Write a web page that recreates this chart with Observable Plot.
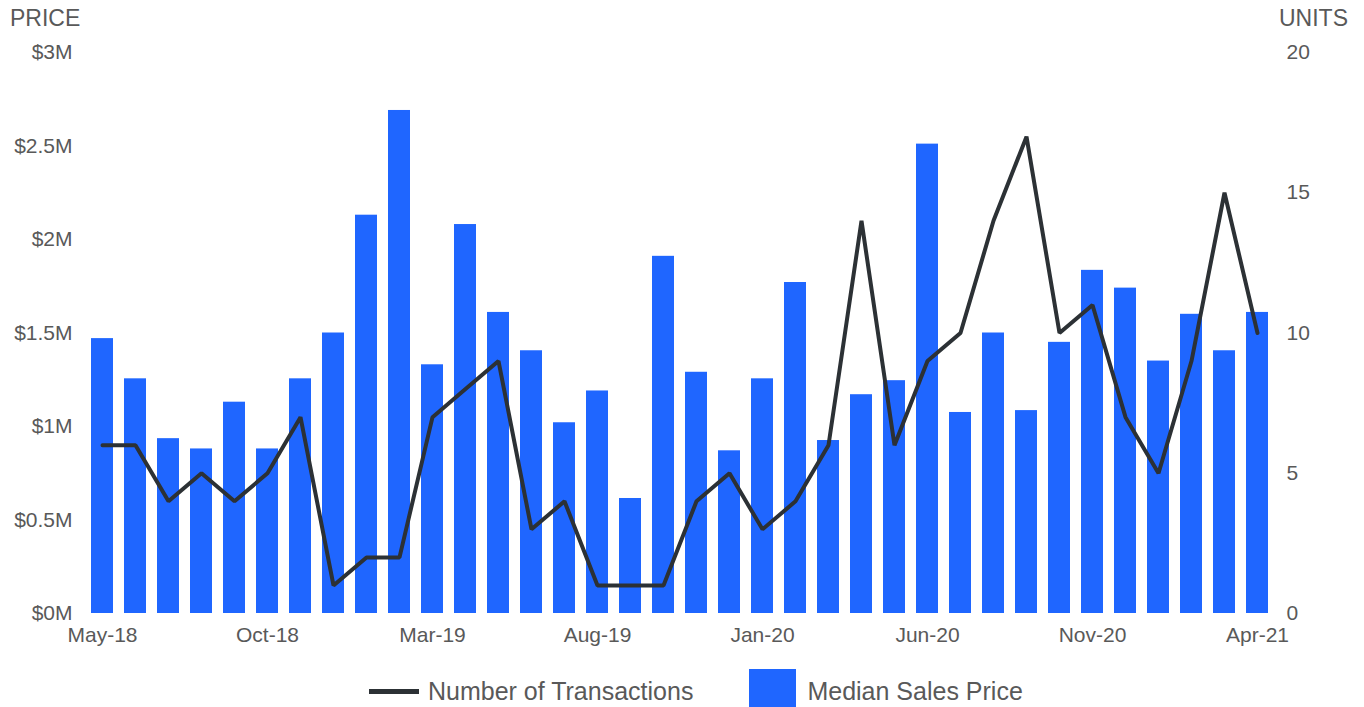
<!DOCTYPE html>
<html>
<head>
<meta charset="utf-8">
<script src="https://cdn.jsdelivr.net/npm/d3@7"></script>
<script src="https://cdn.jsdelivr.net/npm/@observablehq/plot@0.6"></script>
<style>
  html, body { margin: 0; padding: 0; background: #fff; }
  body { width: 1364px; height: 707px; overflow: hidden; font-family: "Liberation Sans", Arial, sans-serif; color: #595959; }
  #header { position: relative; height: 36px; }
  #header span { position: absolute; top: 0; line-height: 36px; font-size: 23px; }
  #legend { display: flex; align-items: center; height: 40px; margin-top: 16px; padding-left: 369px; font-size: 25px; }
  .sw-line { width: 50px; height: 5px; background: #2c3135; margin-right: 9px; }
  .sw-box { width: 47px; height: 44px; background: #1f66ff; margin-left: 56px; margin-right: 11px; }
</style>
</head>
<body>
<div id="header"><span style="left:10px">PRICE</span><span style="right:16px">UNITS</span></div>
<div id="chart"></div>
<div id="legend"><div class="sw-line"></div><span>Number of Transactions</span><div class="sw-box"></div><span>Median Sales Price</span></div>
<script>
const months = ["May-18","Jun-18","Jul-18","Aug-18","Sep-18","Oct-18","Nov-18","Dec-18",
  "Jan-19","Feb-19","Mar-19","Apr-19","May-19","Jun-19","Jul-19","Aug-19","Sep-19","Oct-19","Nov-19","Dec-19",
  "Jan-20","Feb-20","Mar-20","Apr-20","May-20","Jun-20","Jul-20","Aug-20","Sep-20","Oct-20","Nov-20","Dec-20",
  "Jan-21","Feb-21","Mar-21","Apr-21"];
const medianPrice = [1470000,1255000,935000,880000,1130000,880000,1255000,1500000,
  2130000,2690000,1330000,2080000,1610000,1405000,1020000,1190000,615000,1910000,1290000,870000,
  1255000,1770000,925000,1170000,1245000,2510000,1075000,1500000,1085000,1450000,1835000,1740000,
  1350000,1600000,1405000,1610000];
const transactions = [6,6,4,5,4,5,7,1,
  2,2,7,8,9,3,4,1,1,1,4,5,
  3,4,6,14,6,9,10,14,17,10,11,7,
  5,9,15,10];
const xTickLabels = ["May-18","Oct-18","Mar-19","Aug-19","Jan-20","Jun-20","Nov-20","Apr-21"];
const priceTicks = [0,500000,1000000,1500000,2000000,2500000,3000000];
const unitTicks = [0,5,10,15,20];

const priceMax = 3000000, unitMax = 20;
const k = priceMax / unitMax; // maps units onto the price axis (dual axis)

const data = months.map((m, i) => ({month: m, price: medianPrice[i], units: transactions[i]}));

const H = 619;
const chart = Plot.plot({
  width: 1364,
  height: H,
  marginTop: 16,
  marginBottom: 42,
  marginLeft: 80,
  marginRight: 85,
  style: {fontFamily: "'Liberation Sans', Arial, sans-serif", color: "#595959", background: "#fff"},
  x: {type: "band", domain: months, padding: 0.333},
  y: {domain: [0, priceMax]},
  marks: [
    Plot.barY(data, {x: "month", y: "price", fill: "#1f66ff"}),
    Plot.line(data, {x: "month", y: d => d.units * k, stroke: "#2c3135", strokeWidth: 4, strokeLinejoin: "miter"}),
    Plot.axisX({ticks: xTickLabels, tickSize: 0, tickPadding: 14, fontSize: 21, label: null}),
    Plot.axisY({ticks: priceTicks, anchor: "left", tickSize: 0, tickPadding: 8, fontSize: 21, label: null,
      tickFormat: d => "$" + (d / 1e6) + "M"}),
    Plot.axisY({ticks: unitTicks.map(u => u * k), anchor: "right", tickSize: 0, tickPadding: 7, fontSize: 21, label: null,
      tickFormat: d => String(Math.round(d / k))})
  ]
});
document.getElementById("chart").appendChild(chart);
</script>
</body>
</html>
